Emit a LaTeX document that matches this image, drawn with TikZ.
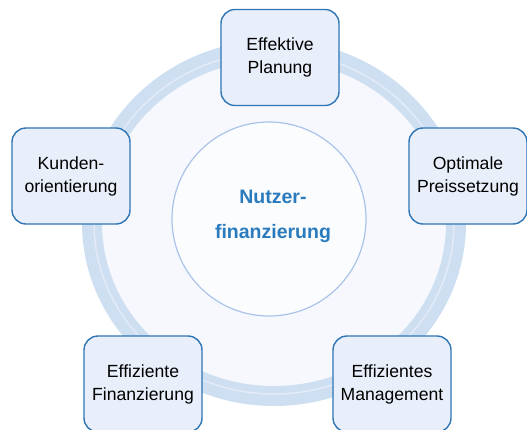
\documentclass[tikz,border=0pt]{standalone}
\usepackage{fontspec}
\setmainfont{Liberation Sans}
\usetikzlibrary{positioning,shapes}
\definecolor{boxline}{HTML}{2E75B6}
\definecolor{boxfill}{HTML}{E9EFFA}
\definecolor{ringcol}{HTML}{CEDFF2}
\definecolor{ringlight}{HTML}{E2EBF7}
\definecolor{discfill}{HTML}{F6F8FD}
\definecolor{coreline}{HTML}{A9C3EA}
\definecolor{coretext}{HTML}{2A7BBE}
\tikzstyle{aspect} = [
    draw=boxline,
    line width=1.4pt,
    fill=boxfill,
    rounded corners=14pt,
    minimum width=118pt,
    minimum height=96pt,
    align=center,
    font=\fontsize{17.6}{23}\selectfont]
\tikzstyle{core} = [
    draw=coreline,
    line width=1.2pt,
    fill=white!60!discfill,
    circle,
    minimum size=194pt]

\begin{document}
\begin{tikzpicture}[x=1pt,y=-1pt]
        \useasboundingbox (0,0) rectangle (527,429);
        \clip (0,0) rectangle (527,429);
        % ring
        \fill[discfill] (274,223) ellipse (182 and 173);
        \draw[ringcol, line width=20pt] (274,223) ellipse (182 and 173);
        \draw[ringlight, line width=1.5pt] (274,223) ellipse (180 and 171);

        \node[core] (nutzer) at (269,219) {};
        \node[align=center, text=coretext, font=\fontsize{19.5}{35}\selectfont\bfseries]
            (titel) at (273,216) {Nutzer-\\finanzierung};

        \node[aspect] (plan) at (280,57.5) {Effektive\\Planung};
        \node[aspect] (kunden) at (71,176) {Kunden-\\orientierung};
        \node[aspect] (preis) at (468,176) {Optimale\\Preissetzung};
        \node[aspect] (finanz) at (143,384) {Effiziente\\Finanzierung};
        \node[aspect] (mgmt) at (392,384) {Effizientes\\Management};
    \end{tikzpicture}
\end{document}
